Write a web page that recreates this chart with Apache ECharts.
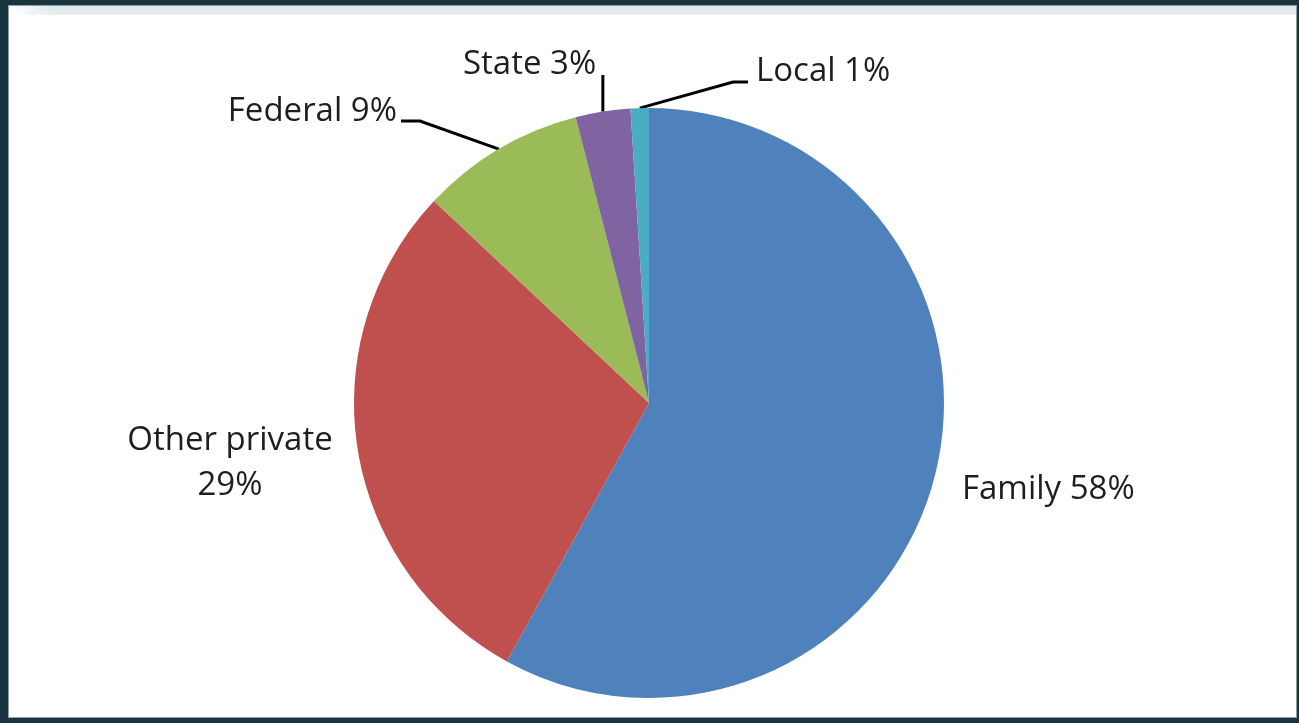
<!DOCTYPE html>
<html>
<head>
<meta charset="utf-8">
<script src="https://cdn.jsdelivr.net/npm/echarts@6/dist/echarts.min.js"></script>
<style>
  html, body { margin: 0; padding: 0; width: 1299px; height: 723px; overflow: hidden; background: #18353f; }
  #panel { position: absolute; left: 8px; top: 5px; width: 1287px; height: 711px; background: #fff; border: 1px solid #8f9ea4; }
  #band { position: absolute; left: 9px; top: 6px; width: 1287px; height: 9px;
          background: linear-gradient(to right, #fff 0, rgba(255,255,255,0) 45px), linear-gradient(#dbe5e8, #eaf0f1); }
  #chart { position: absolute; left: 0; top: 0; width: 1299px; height: 723px; }
</style>
</head>
<body>
<div id="panel"></div>
<div id="band"></div>
<div id="chart"></div>
<script>
// Sources of funding, share of total (%)
const categories = ['Family', 'Other private', 'Federal', 'State', 'Local'];
const shares = [58, 29, 9, 3, 1];
const sliceColors = ['#4f81bd', '#c0504d', '#9bbb59', '#8064a2', '#4bacc6'];

// Pie geometry (pixels)
const CX = 649, CY = 403, R = 295;

// Where each label sits and how its leader line bends
const labelPlacement = [
  { x: 962, y: 490, align: 'left' },
  { x: 230, y: 463, align: 'center' },
  { x: 397, y: 112, align: 'right', bend: [420, 121], end: [401, 121] },
  { x: 463, y: 65, align: 'left', vertTo: 75 },
  { x: 756, y: 72, align: 'left', bend: [733, 82], end: [748, 82] }
];

const total = shares.reduce((a, b) => a + b, 0);
function edgePoint(i) {
  const before = shares.slice(0, i).reduce((a, b) => a + b, 0);
  const ang = (before + shares[i] / 2) / total * 2 * Math.PI;
  return [CX + R * Math.sin(ang), CY - R * Math.cos(ang)];
}

const chart = echarts.init(document.getElementById('chart'), null, { renderer: 'canvas' });
chart.setOption({
  animation: false,
  backgroundColor: 'transparent',
  series: [{
    type: 'pie',
    center: [CX, CY],
    radius: R,
    startAngle: 90,
    clockwise: true,
    avoidLabelOverlap: false,
    silent: true,
    itemStyle: { borderWidth: 0 },
    label: {
      show: true,
      position: 'outside',
      color: '#1e1e1e',
      fontFamily: 'Open Sans',
      fontSize: 33,
      lineHeight: 45,
      formatter: p => p.dataIndex === 1 ? p.name + '\n' + p.value + '%' : p.name + ' ' + p.value + '%'
    },
    labelLine: { show: true, smooth: false, lineStyle: { color: '#000', width: 3 } },
    data: categories.map((name, i) => ({
      name: name,
      value: shares[i],
      itemStyle: { color: sliceColors[i] },
      labelLine: { show: i >= 2 }
    })),
    labelLayout: function (params) {
      const i = params.dataIndex;
      const pl = labelPlacement[i];
      const out = { x: pl.x, y: pl.y, align: pl.align, verticalAlign: 'middle' };
      const start = edgePoint(i);
      if (pl.bend) {
        out.labelLinePoints = [start, pl.bend, pl.end];
      } else if (pl.vertTo != null) {
        out.labelLinePoints = [start, [start[0], (start[1] + pl.vertTo) / 2], [start[0], pl.vertTo]];
      }
      return out;
    }
  }]
});
</script>
</body>
</html>
